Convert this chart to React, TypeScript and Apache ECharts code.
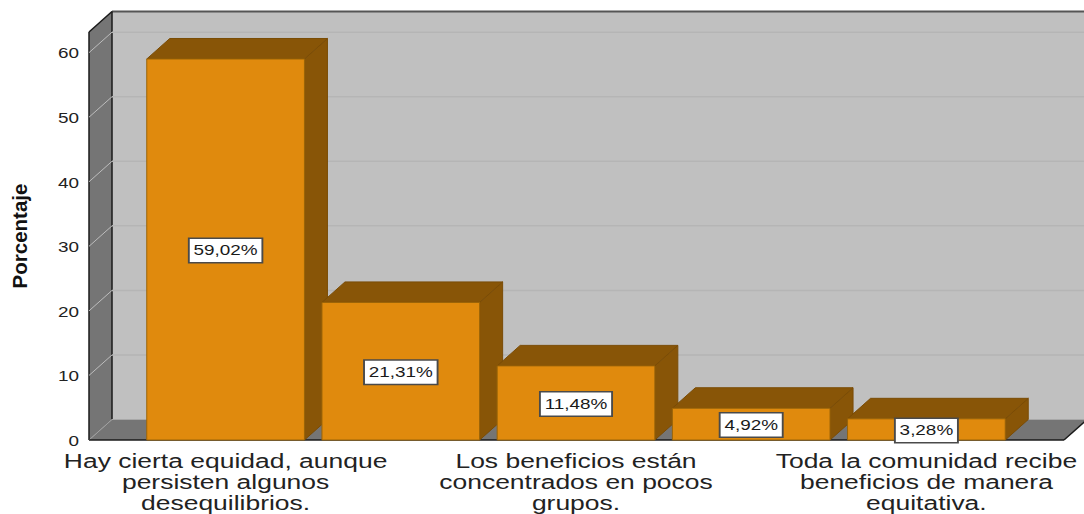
import React, { useEffect, useRef } from "react";
import * as echarts from "echarts";

const categories = [
  "Hay cierta equidad, aunque\npersisten algunos\ndesequilibrios.",
  "",
  "Los beneficios están\nconcentrados en pocos\ngrupos.",
  "",
  "Toda la comunidad recibe\nbeneficios de manera\nequitativa.",
];
const percentages = [59.02, 21.31, 11.48, 4.92, 3.28];
const yTicks = [0, 10, 20, 30, 40, 50, 60];
const yMax = 63.2;

const DEPTH_X = 23;
const DEPTH_Y = -20.5;
const PAD_L = 49;
const PAD_R = 50;
const FONT = "Liberation Sans";
const STRETCH = 1.26;

const polygon = (points: number[][], fill: string, stroke?: string, lineWidth = 1) => ({
  type: "polygon",
  shape: { points },
  style: { fill, stroke: stroke ?? fill, lineWidth },
});
const line = (x1: number, y1: number, x2: number, y2: number, stroke: string, lineWidth = 1) => ({
  type: "line",
  shape: { x1, y1, x2, y2 },
  style: { stroke, lineWidth },
});

function renderBox(params: any) {
  const c = params.coordSys;
  const l = c.x - PAD_L;
  const r = c.x + c.width + PAD_R;
  const t = c.y;
  const b = c.y + c.height;
  const bl = l + DEPTH_X;
  const br = r + DEPTH_X;
  const tb = t + DEPTH_Y;
  const bb = b + DEPTH_Y;
  return {
    type: "group",
    children: [
      polygon([[bl, tb], [br, tb], [br, bb], [bl, bb]], "#c0c0c0", "none"),
      polygon([[l, t], [bl, tb], [bl, bb], [l, b]], "#757575", "none"),
      polygon([[l, b], [bl, bb], [br, bb], [r, b]], "#757575", "none"),
      line(bl, tb, br, tb, "#555555", 2),
      line(l, t, bl, tb, "#1a1a1a", 1.5),
      line(l, t, l, b, "#1a1a1a", 1.5),
      line(bl, tb, bl, bb, "#1a1a1a", 1.5),
      line(bl, bb, br, bb, "#a8a8a8", 1),
      line(l, b, bl, bb, "#a0a0a0", 1),
      line(l, b, r, b, "#1a1a1a", 1.5),
      line(r, b, br, bb, "#1a1a1a", 1.5),
    ],
  };
}

function renderTick(params: any, api: any) {
  const c = params.coordSys;
  const value = api.value(0);
  const y = api.coord([0, value])[1];
  const l = c.x - PAD_L;
  const r = c.x + c.width + PAD_R;
  const label = {
    type: "text",
    x: 79,
    y: y + 1,
    scaleX: STRETCH,
    style: {
      text: String(value),
      align: "right",
      verticalAlign: "middle",
      fontFamily: FONT,
      fontSize: 15,
      fill: "#222222",
    },
  };
  if (value === 0) return { type: "group", children: [label] };
  return {
    type: "group",
    children: [
      line(l, y, l + DEPTH_X, y + DEPTH_Y, "#bdbdbd", 1),
      line(l + DEPTH_X, y + DEPTH_Y, r + DEPTH_X, y + DEPTH_Y, "#b5b5b5", 1.5),
      label,
    ],
  };
}

function renderBar(_params: any, api: any) {
  const idx = api.value(0);
  const v = api.value(1);
  const [cx, yTop] = api.coord([idx, v]);
  const [, yBase] = api.coord([idx, 0]);
  const w = api.size([1, 0])[0] * 0.9;
  const x0 = cx - w / 2;
  const x1 = cx + w / 2;
  const edge = "#9a6408";
  return {
    type: "group",
    children: [
      polygon(
        [[x1, yTop], [x1 + DEPTH_X, yTop + DEPTH_Y], [x1 + DEPTH_X, yBase + DEPTH_Y], [x1, yBase]],
        "#885507",
        "#7a4c06"
      ),
      polygon(
        [[x0, yTop], [x0 + DEPTH_X, yTop + DEPTH_Y], [x1 + DEPTH_X, yTop + DEPTH_Y], [x1, yTop]],
        "#885507",
        "#7a4c06"
      ),
      polygon([[x0, yTop], [x1, yTop], [x1, yBase], [x0, yBase]], "#e08a0d", edge),
      {
        type: "text",
        x: cx,
        y: (yTop + yBase) / 2 + 1,
        scaleX: STRETCH,
        style: {
          text: v.toFixed(2).replace(".", ",") + "%",
          align: "center",
          verticalAlign: "middle",
          fontFamily: FONT,
          fontSize: 15,
          fill: "#1a1a1a",
          backgroundColor: "#ffffff",
          borderColor: "#4a4a4a",
          borderWidth: 1.5,
          padding: [4, 3, 4, 3],
        },
      },
    ],
  };
}

function renderCategory(_params: any, api: any) {
  const idx = api.value(0);
  const [cx, yBase] = api.coord([idx, 0]);
  return {
    type: "text",
    x: cx,
    y: yBase + 10.5,
    scaleX: STRETCH,
    style: {
      text: categories[idx],
      align: "center",
      verticalAlign: "top",
      fontFamily: FONT,
      fontSize: 21,
      lineHeight: 21,
      fill: "#222222",
    },
  };
}

export default function App() {
  const ref = useRef<HTMLDivElement>(null);
  useEffect(() => {
    document.body.style.margin = "0";
    const chart = echarts.init(ref.current!, undefined, { renderer: "svg" });
    chart.setOption({
      animation: false,
      backgroundColor: "#ffffff",
      grid: { left: 138, top: 32, width: 876, height: 408 },
      xAxis: {
        type: "category",
        data: categories,
        axisLine: { show: false },
        axisTick: { show: false },
        axisLabel: { show: false },
      },
      yAxis: {
        type: "value",
        min: 0,
        max: yMax,
        interval: 10,
        name: "Porcentaje",
        nameLocation: "middle",
        nameGap: 108,
        nameTextStyle: {
          fontFamily: FONT,
          fontWeight: "bold",
          fontSize: 20.5,
          color: "#111111",
        },
        axisLine: { show: false },
        axisTick: { show: false },
        splitLine: { show: false },
        axisLabel: { show: false },
      },
      series: [
        { type: "custom", name: "box", silent: true, z: 1, data: [[0]], renderItem: renderBox },
        {
          type: "custom",
          name: "ticks",
          silent: true,
          z: 2,
          data: yTicks.map((t) => [t]),
          encode: { y: 0 },
          renderItem: renderTick,
        },
        {
          type: "custom",
          name: "Porcentaje",
          z: 3,
          data: percentages.map((v, i) => [i, v]),
          encode: { x: 0, y: 1 },
          renderItem: renderBar,
        },
        {
          type: "custom",
          name: "categories",
          silent: true,
          z: 4,
          data: categories.map((c, i) => [i, c]).filter((d) => d[1] !== "").map((d) => [d[0]]),
          encode: { x: 0 },
          renderItem: renderCategory,
        },
      ],
    });
    return () => chart.dispose();
  }, []);
  return <div ref={ref} style={{ width: 1084, height: 514, position: "absolute", left: 0, top: 0 }} />;
}
